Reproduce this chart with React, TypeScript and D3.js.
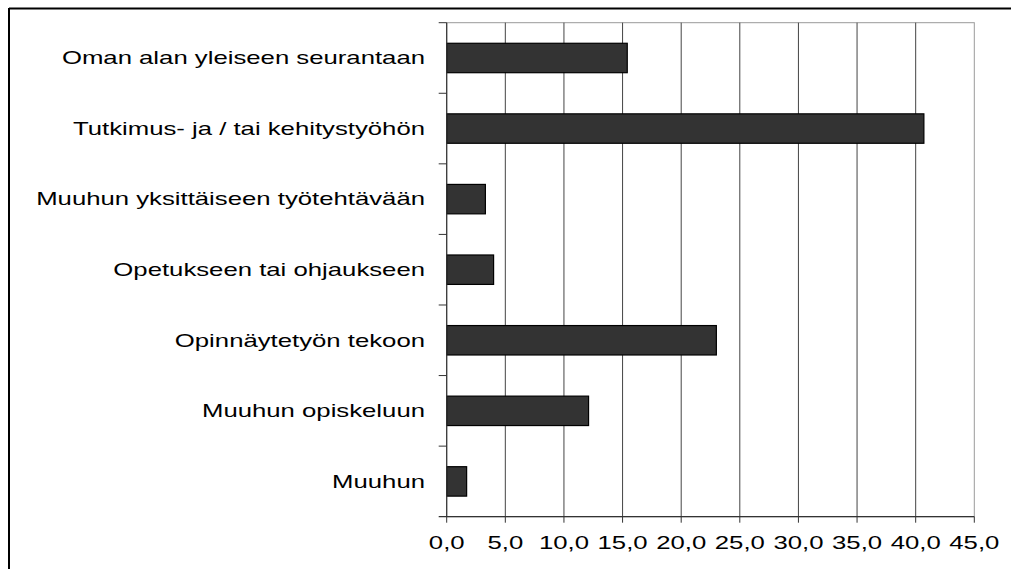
import React, { useEffect } from "react";
import * as d3 from "d3";

const categories = [
  "Oman alan yleiseen seurantaan",
  "Tutkimus- ja / tai kehitystyöhön",
  "Muuhun yksittäiseen työtehtävään",
  "Opetukseen tai ohjaukseen",
  "Opinnäytetyön tekoon",
  "Muuhun opiskeluun",
  "Muuhun",
];
const values = [15.4, 40.7, 3.3, 4.0, 23.0, 12.1, 1.7];
const xTicks = [0, 5, 10, 15, 20, 25, 30, 35, 40, 45];

export default function App() {
  useEffect(() => {
    document.body.style.margin = "0";
  }, []);
  const W = 1011;
  const H = 569;
  const left = 446.7;
  const right = 974.3;
  const top = 22.7;
  const bottom = 516.7;
  const x = d3.scaleLinear().domain([0, 45]).range([left, right]);
  const y = d3
    .scaleBand<string>()
    .domain(categories)
    .range([top, bottom])
    .paddingInner(0.583)
    .paddingOuter(0.2915);
  const step = (bottom - top) / categories.length;
  const font = "'Liberation Sans', Arial, sans-serif";
  const fmt = (v: number) => v.toFixed(1).replace(".", ",");
  const sx = 1.43;
  const fs = 18;
  return (
    <svg width={W} height={H} style={{ display: "block", background: "#fff" }}>
      {/* outer frame */}
      <line x1={9} y1={8.5} x2={W} y2={8.5} stroke="#000" strokeWidth={2} />
      <line x1={9} y1={8} x2={9} y2={H} stroke="#000" strokeWidth={2} />
      {/* plot area border */}
      <rect x={left} y={top} width={right - left} height={bottom - top} fill="none" stroke="#9a9a9a" strokeWidth={1} />
      {/* gridlines */}
      {xTicks.slice(1, -1).map((t) => (
        <line key={"g" + t} x1={x(t)} x2={x(t)} y1={top} y2={bottom} stroke="#444" strokeWidth={1} />
      ))}
      {/* bars */}
      {categories.map((c, i) => (
        <rect
          key={c}
          x={x(0)}
          y={y(c)}
          width={x(values[i]) - x(0)}
          height={y.bandwidth()}
          fill="#333333"
          stroke="#000"
          strokeWidth={1.2}
        />
      ))}
      {/* axes */}
      <line x1={left} x2={left} y1={top} y2={bottom} stroke="#333" strokeWidth={1.2} />
      <line x1={left - 8} x2={right} y1={bottom} y2={bottom} stroke="#333" strokeWidth={1.2} />
      {d3.range(categories.length).map((k) => (
        <line key={"ct" + k} x1={left - 8} x2={left} y1={top + k * step} y2={top + k * step} stroke="#333" strokeWidth={1} />
      ))}
      {xTicks.map((t) => (
        <line key={"xt" + t} x1={x(t)} x2={x(t)} y1={bottom} y2={bottom + 6} stroke="#333" strokeWidth={1} />
      ))}
      {xTicks.map((t) => (
        <text
          key={"xl" + t}
          transform={`translate(${x(t)},549) scale(${sx},1)`}
          textAnchor="middle"
          fontFamily={font}
          fontSize={fs}
          fill="#000"
        >
          {fmt(t)}
        </text>
      ))}
      {categories.map((c) => (
        <text
          key={"cl" + c}
          transform={`translate(425,${(y(c) as number) + y.bandwidth() / 2}) scale(${sx},1)`}
          dy="0.35em"
          textAnchor="end"
          fontFamily={font}
          fontSize={fs}
          fill="#000"
        >
          {c}
        </text>
      ))}
    </svg>
  );
}
